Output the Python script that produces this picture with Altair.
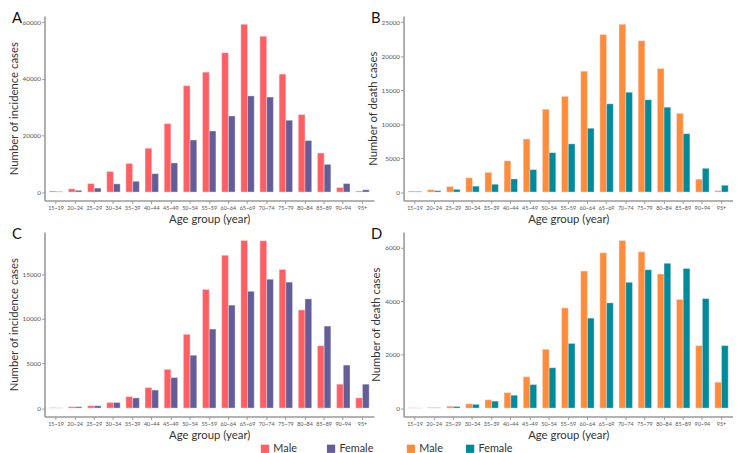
import altair as alt
import pandas as pd

ages = ["15~19", "20~24", "25~29", "30~34", "35~39", "40~44", "45~49", "50~54",
        "55~59", "60~64", "65~69", "70~74", "75~79", "80~84", "85~89", "90~94", "95+"]
sexes = ["Male", "Female"]

inc_a_male = [350, 1150, 3000, 7300, 10100, 15500, 24200, 37600, 42400, 49300, 59300, 55100, 41700, 27400, 13800, 1600, 350]
inc_a_female = [200, 600, 1400, 2900, 3800, 6500, 10300, 18400, 21600, 26900, 34000, 33600, 25400, 18200, 9800, 3000, 800]

death_b_male = [150, 340, 820, 2100, 2900, 4600, 7800, 12200, 14100, 17800, 23200, 24700, 22300, 18200, 11600, 1900, 200]
death_b_female = [100, 200, 400, 870, 1150, 1930, 3300, 5800, 7100, 9400, 13000, 14700, 13600, 12500, 8600, 3500, 1000]

inc_c_male = [40, 150, 260, 620, 1290, 2300, 4340, 8270, 13300, 17130, 18800, 18750, 15550, 11000, 6990, 2680, 1140]
inc_c_female = [20, 150, 260, 620, 1140, 2020, 3420, 5920, 8860, 11540, 13090, 14450, 14120, 12240, 9190, 4820, 2680]

death_d_male = [10, 25, 70, 160, 310, 580, 1170, 2200, 3750, 5130, 5820, 6280, 5850, 5020, 4070, 2340, 970]
death_d_female = [5, 15, 60, 140, 260, 480, 880, 1510, 2420, 3370, 3940, 4710, 5180, 5420, 5230, 4100, 2340]

ticks_a = [0, 20000, 40000, 60000]
ticks_b = [0, 5000, 10000, 15000, 20000, 25000]
ticks_c = [0, 5000, 10000, 15000]
ticks_d = [0, 2000, 4000, 6000]

colors_inc = ["#FF5F63", "#645E98"]
colors_death = ["#FF8C3B", "#008A9A"]

FONT = "Lato"
AXIS_GRAY = "#9a9a9a"
W, H = 334, 187


def panel(male, female, ytitle, ticks, colors, letter, legend=None):
    df = pd.DataFrame({
        "age": ages * 2,
        "sex": ["Male"] * len(ages) + ["Female"] * len(ages),
        "value": male + female,
    })
    ymax = max(male + female)
    dom = [-0.05 * ymax, 1.05 * ymax]
    bars = alt.Chart(df).mark_bar(stroke="#f3eef6", strokeWidth=0.4).encode(
        x=alt.X("age:N", sort=ages,
                scale=alt.Scale(paddingInner=0.3, paddingOuter=0.25),
                axis=alt.Axis(title="Age group (year)", labelAngle=0, labelFontSize=5.5,
                              labelColor="#555555", labelFont=FONT, titleFont=FONT,
                              titleFontSize=11.5, titleFontWeight="normal", titleColor="#333333",
                              titlePadding=3, labelPadding=2,
                              domainColor=AXIS_GRAY, domainWidth=1.6, tickColor=AXIS_GRAY,
                              tickSize=3)),
        xOffset=alt.XOffset("sex:N", sort=sexes),
        y=alt.Y("value:Q",
                scale=alt.Scale(domain=dom, nice=False, zero=False),
                axis=alt.Axis(title=ytitle, values=ticks, format="d", labelFontSize=6.5,
                              labelColor="#555555", labelFont=FONT, titleFont=FONT,
                              titleFontSize=11.5, titleFontWeight="normal", titleColor="#333333",
                              titlePadding=3, labelPadding=1,
                              domainColor=AXIS_GRAY, domainWidth=1.6, tickColor=AXIS_GRAY,
                              tickSize=3, grid=False)),
        y2=alt.datum(0),
        color=alt.Color("sex:N", sort=sexes,
                        scale=alt.Scale(domain=sexes, range=colors),
                        legend=legend),
    )
    lbl = alt.Chart(pd.DataFrame({"t": [letter]})).mark_text(
        align="left", baseline="top", fontSize=15, font=FONT, color="#111111"
    ).encode(text="t:N", x=alt.value(-33), y=alt.value(-5))
    return alt.layer(bars, lbl).properties(width=W, height=H)


def legend_at(x, y, colpad):
    return alt.Legend(title=None, orient="none", legendX=x, legendY=y, direction="horizontal",
                      symbolType="square", symbolSize=70, symbolStrokeWidth=0,
                      labelFontSize=11, labelFont=FONT, labelColor="#333333",
                      columnPadding=colpad, labelOffset=3, padding=0)


pa = panel(inc_a_male, inc_a_female, "Number of incidence cases", ticks_a, colors_inc, "A")
pb = panel(death_b_male, death_b_female, "Number of death cases", ticks_b, colors_death, "B")
pc = panel(inc_c_male, inc_c_female, "Number of incidence cases", ticks_c, colors_inc, "C",
           legend=legend_at(218, 214, 29))
pd_ = panel(death_d_male, death_d_female, "Number of death cases", ticks_d, colors_death, "D",
            legend=legend_at(2, 214, 22))

chart = alt.concat(pa, pb, pc, pd_, columns=2, spacing={"row": 32, "column": 30},
                   bounds="flush").resolve_scale(
    color="independent", x="independent", y="independent"
).properties(padding=0).configure_view(stroke=None).configure_axis(grid=False)

chart.save("out.html", embed_options={"renderer": "svg", "actions": False})
